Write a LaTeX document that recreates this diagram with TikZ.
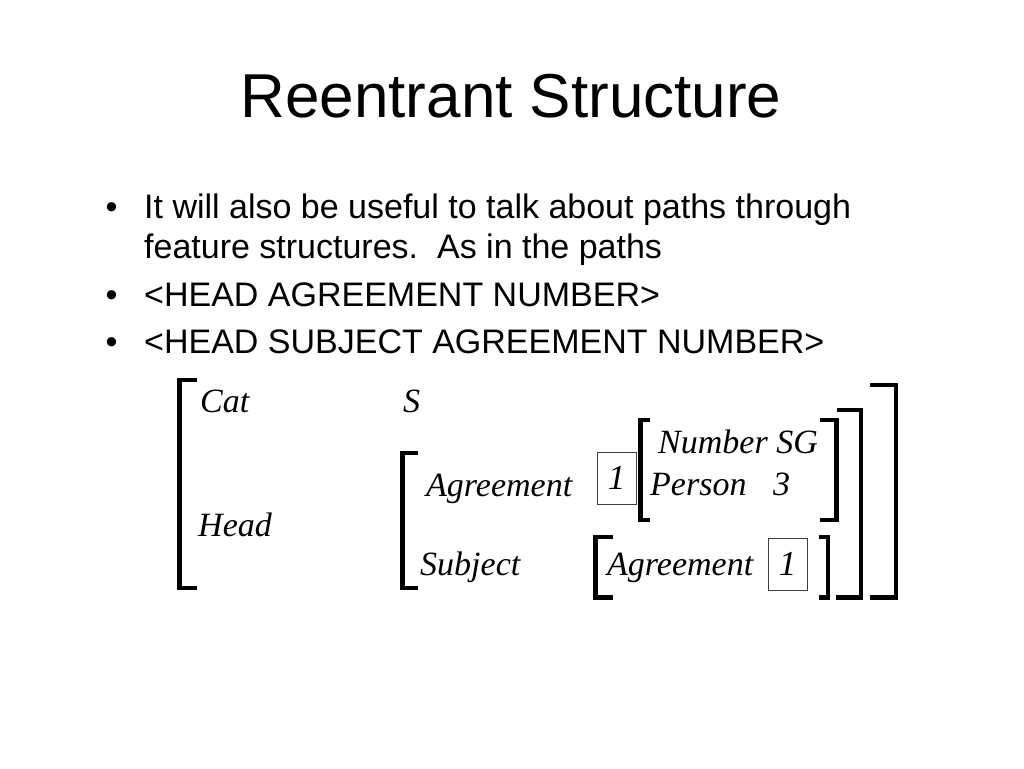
\documentclass[tikz,border=0pt]{standalone}
\usepackage{fontspec}
\setmainfont{Liberation Serif}
\newfontfamily\arialf{Liberation Sans}
\begin{document}
\begin{tikzpicture}[x=1pt,y=-1pt,
  brk/.style={line width=4.2pt, line join=miter, line cap=butt},
  ttl/.style={font=\arialf\fontsize{62}{70}\selectfont, inner sep=0, anchor=base},
  body/.style={font=\arialf\fontsize{34}{40}\selectfont, inner sep=0, anchor=base west},
  fs/.style={font=\fontsize{34}{40}\selectfont\itshape, inner sep=0, anchor=base west},
  tag/.style={draw=black!75, line width=0.8pt, minimum width=39pt, minimum height=52pt, inner sep=0, font=\fontsize{35}{40}\selectfont\itshape}]
\useasboundingbox[fill=white] (0,0) rectangle (1024,768);
% title
\node[ttl] (title) at (511,117) {Reentrant Structure};
% bullets
\node[body] (b1) at (105.5,218) {•};
\node[body] (l1) at (144,218) {It will also be useful to talk about paths through};
\node[body] (l2) at (144,258) {feature structures.\ \ As in the paths};
\node[body] (b3) at (105.5,306) {•};
\node[body] (l3) at (144,306) {<HEAD AGREEMENT NUMBER>};
\node[body] (b4) at (105.5,353) {•};
\node[body] (l4) at (144,353) {<HEAD SUBJECT AGREEMENT NUMBER>};
% feature structure texts
\node[fs] (cat) at (200,412) {Cat};
\node[fs] (sval) at (403,412) {S};
\node[fs] (head) at (198,536) {Head};
\node[fs] (agr1) at (426,496) {Agreement};
\node[fs] (subj) at (420,575) {Subject};
\node[tag] (box1) at (616.5,478) {1};
\node[fs] (num) at (658,453) {Number SG};
\node[fs] (pers) at (650,495) {Person};
\node[fs] (three) at (773,495) {3};
\node[fs] (agr2) at (607,575) {Agreement};
\node[tag] (box2) at (787.5,564) {1};
% brackets
\draw[brk] (197,380) -- (179.5,380) -- (179.5,588) -- (197,588);
\draw[brk] (418,453) -- (402.5,453) -- (402.5,588) -- (418,588);
\draw[brk] (650,420) -- (640.5,420) -- (640.5,520) -- (650,520);
\draw[brk] (820,420) -- (836.5,420) -- (836.5,520) -- (820,520);
\draw[brk] (613,537) -- (595.5,537) -- (595.5,597.5) -- (613,597.5);
\draw[brk] (819,537) -- (828,537) -- (828,597.5) -- (819,597.5);
\draw[brk] (837,410) -- (861,410) -- (861,597.5) -- (836,597.5);
\draw[brk] (870,385) -- (896,385) -- (896,597.5) -- (870,597.5);
\end{tikzpicture}
\end{document}
